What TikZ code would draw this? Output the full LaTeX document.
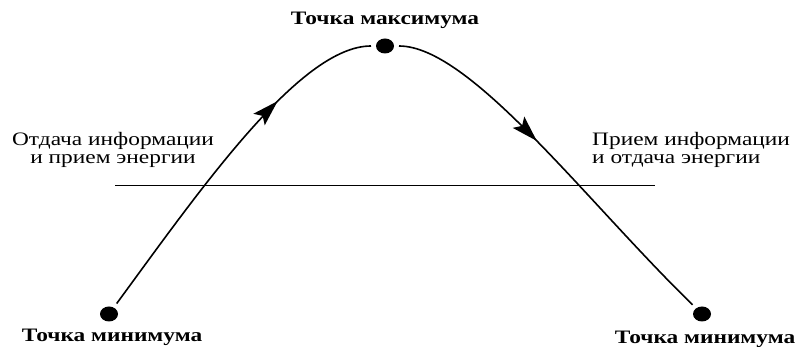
\documentclass[tikz,border=0pt]{standalone}
\usepackage{fontspec}
\setmainfont{Liberation Serif}[FakeStretch=1.23]
\usepackage{tikz}
\usetikzlibrary{calc,arrows.meta,positioning,shapes.geometric,decorations.markings}
\tikzset{
  dot/.style={ellipse,fill=black,minimum width=18pt,minimum height=15pt,inner sep=0pt,outer sep=5pt},
  lbl/.style={font=\fontsize{19}{19}\selectfont\bfseries,inner sep=0pt},
  txt/.style={font=\fontsize{19}{18.5}\selectfont,inner sep=0pt},
  ar/.style={line width=1.6pt,postaction={decorate},
    decoration={markings,mark=at position #1 with {\arrow{Stealth[length=26pt,width=16pt,inset=5pt]}}}}
}
\begin{document}
\begin{tikzpicture}[x=1pt,y=1pt]
\useasboundingbox (0,0) rectangle (802,347);
% points
\node[dot] (mnl) at (109,33) {};
\node[dot] (mx) at (385,301) {};
\node[dot] (mnr) at (702,33) {};
% labels
\node[lbl] (lmx) at (385,327) {Точка максимума};
\node[lbl] (lmnl) at (112,10) {Точка минимума};
\node[lbl] (lmnr) at (705,8) {Точка минимума};
\node[txt,align=center,anchor=north] (tl) at (113,215) {Отдача информации\\и прием энергии};
\node[txt,align=left,anchor=north west] (tr) at (592,215) {Прием информации\\и отдача энергии};
% level line
\coordinate (ha) at (115,162);
\coordinate (hb) at (655,162);
\draw[line width=0.8pt] (ha)--(hb);
% curve
\draw[ar=0.7] (mnl) .. controls (200,157) and (300,301) .. (mx);
\draw[ar=0.43] (mx) .. controls (470,301) and (585,147) .. (mnr);
\end{tikzpicture}
\end{document}
